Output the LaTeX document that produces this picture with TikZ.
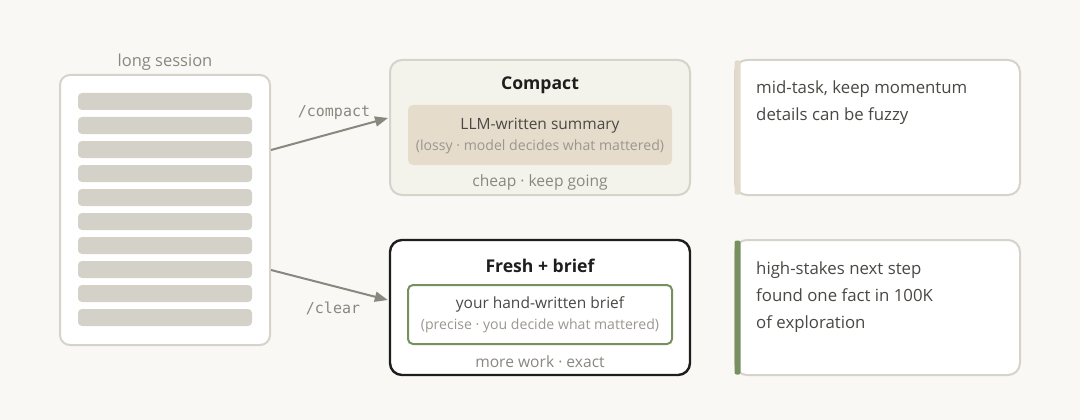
\documentclass[tikz,border=0pt]{standalone}
\usepackage{fontspec}
\setmainfont{Open Sans}
\setmonofont{DejaVu Sans Mono}
\usetikzlibrary{arrows.meta}
\definecolor{bg}{HTML}{F9F8F4}
\definecolor{lineg}{HTML}{D6D3CA}
\definecolor{barg}{HTML}{D4D1C8}
\definecolor{labg}{HTML}{8A877F}
\definecolor{cmpfill}{HTML}{F3F2EB}
\definecolor{sumfill}{HTML}{E5DCCC}
\definecolor{darkt}{HTML}{1E1E1E}
\definecolor{bodyt}{HTML}{4A4844}
\definecolor{subt}{HTML}{9B978F}
\definecolor{greenc}{HTML}{77905F}
\definecolor{beigec}{HTML}{E2DACB}
\tikzset{
  sessbox/.style={draw=lineg, line width=2pt, fill=white, rounded corners=10pt, minimum width=210pt, minimum height=270pt, inner sep=0pt},
  barbox/.style={fill=barg, rounded corners=4pt, minimum width=174pt, minimum height=17pt, inner sep=0pt},
  cmpbox/.style={draw=lineg, line width=2pt, fill=cmpfill, rounded corners=12pt, minimum width=300pt, minimum height=135pt, inner sep=0pt},
  frbox/.style={draw=darkt, line width=2.4pt, fill=white, rounded corners=12pt, minimum width=300pt, minimum height=135pt, inner sep=0pt},
  sumbox/.style={fill=sumfill, rounded corners=5pt, minimum width=264pt, minimum height=60pt, inner sep=0pt},
  briefbox/.style={draw=greenc, line width=2pt, fill=white, rounded corners=5pt, minimum width=264pt, minimum height=59pt, inner sep=0pt},
  notebox/.style={draw=lineg, line width=2pt, fill=white, rounded corners=12pt, minimum width=285pt, minimum height=135pt, inner sep=0pt},
  title/.style={font=\fontsize{17.6}{20}\selectfont\bfseries, text=darkt, inner sep=0pt},
  maint/.style={font=\fontsize{15.5}{18}\selectfont, text=bodyt, inner sep=0pt},
  subtx/.style={font=\fontsize{14.1}{16}\selectfont, text=subt, inner sep=0pt},
  foot/.style={font=\fontsize{15.6}{18}\selectfont, text=labg, inner sep=0pt},
  notet/.style={font=\fontsize{16.8}{27}\selectfont, text=bodyt, align=left, inner sep=0pt, anchor=base west},
  cmd/.style={font=\ttfamily\fontsize{15}{17}\selectfont, text=labg, inner sep=0pt},
  arr/.style={draw=labg, line width=2pt, -{Triangle[length=13pt,width=10pt]}},
}
\begin{document}
\begin{tikzpicture}[x=1pt,y=-1pt]
\fill[bg] (0,0) rectangle (1080,420);
\useasboundingbox (0,0) rectangle (1080,420);

% long session
\node[font=\fontsize{16.5}{19}\selectfont, text=labg, inner sep=0pt] (sesslab) at (165,62) {long session};
\node[sessbox] (sess) at (165,210) {};
\foreach \i in {0,...,9}{
  \node[barbox] (bar\i) at (165,{101.5+24*\i}) {};
}

% compact
\node[cmpbox] (cmp) at (540,127.5) {};
\node[title] (cmpt) at (540,85.5) {Compact};
\node[sumbox] (sum) at (540,135) {};
\node[maint] (sum1) at (540,125.5) {LLM-written summary};
\node[subtx] (sum2) at (540,147) {(lossy · model decides what mattered)};
\node[foot] (cmpf) at (540,182) {cheap · keep going};

% fresh
\node[frbox] (fr) at (540,307.5) {};
\node[title] (frt) at (540,265.5) {Fresh + brief};
\node[briefbox] (brief) at (540,314.5) {};
\node[maint] (br1) at (540,304.5) {your hand-written brief};
\node[subtx] (br2) at (540,326) {(precise · you decide what mattered)};
\node[foot] (frf) at (540,362) {more work · exact};

% arrows
\draw[arr] ([yshift=60pt]sess.east) -- ([yshift=9.5pt,xshift=-1pt]cmp.west);
\draw[arr] ([yshift=-60pt]sess.east) -- ([yshift=7.5pt,xshift=-1pt]fr.west);
\node[cmd] (lc) at (334,113) {/compact};
\node[cmd] (lcl) at (333,308) {/clear};

% notes
\node[notebox] (n1) at (877.5,127.5) {};
\fill[beigec, rounded corners=2pt] (734.5,60.5) rectangle (740.5,194.5);
\node[notet] (n1t) at (756,121) {mid-task, keep momentum\\details can be fuzzy};

\node[notebox] (n2) at (877.5,307.5) {};
\fill[greenc, rounded corners=2pt] (734.5,240.5) rectangle (740.5,374.5);
\node[notet] (n2t) at (756,328) {high-stakes next step\\found one fact in 100K\\of exploration};
\end{tikzpicture}
\end{document}
